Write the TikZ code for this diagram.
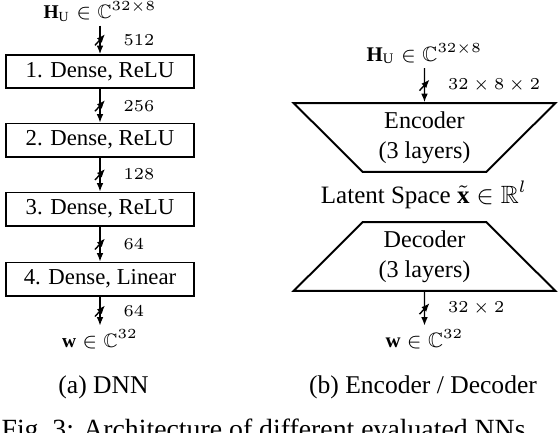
\documentclass[tikz,border=0pt]{standalone}
\usepackage{amsmath}
\usepackage{amssymb}
\usepackage{fontspec}
\setmainfont{Liberation Serif}
\usetikzlibrary{arrows.meta,shapes.geometric}

\begin{document}
\begin{tikzpicture}[x=0.36pt,y=-0.36pt,
  layer/.style={draw,line width=0.7pt,minimum width=67.7pt,minimum height=11.9pt,
    inner sep=0pt,font=\fontsize{8.2}{10}\selectfont},
  coder/.style={draw,line width=0.7pt,trapezium,trapezium angle=45,
    trapezium stretches=true,minimum width=94.7pt,minimum height=24.8pt,
    inner sep=0pt,align=center,font=\fontsize{8.7}{10.6}\selectfont},
  io/.style={inner sep=0pt,outer sep=1.5pt,anchor=base},
  sig/.style={-{Latex[length=3pt,width=2.4pt]},line width=0.45pt},
  dimlbl/.style={anchor=west,inner sep=0pt,xshift=8.3pt},
  busmark/.pic={\draw[line width=0.5pt] (-5,5.5) -- (5,-5.5);},
  subcap/.style={anchor=base,inner sep=0pt,font=\fontsize{9.2}{11}\selectfont}]
  \useasboundingbox (0,0) rectangle (558,432);

  % (a) DNN
  \node[io,font=\fontsize{7}{8}\selectfont] (hinL) at (100,18.5) {$\mathbf{H}_\mathrm{U}\in\mathbb{C}^{32\times 8}$};
  \node[layer] (d1) at (100,71.5) {1. Dense, ReLU};
  \node[layer] (d2) at (100,140) {2. Dense, ReLU};
  \node[layer] (d3) at (100,209) {3. Dense, ReLU};
  \node[layer] (d4) at (100,279) {4. Dense, Linear};
  \node[io,font=\fontsize{7}{8}\selectfont] (woutL) at (100,347) {$\mathbf{w}\in\mathbb{C}^{32}$};
  \draw[sig] (hinL) -- (d1) pic[pos=0.5]{busmark}
    node[pos=0.5,dimlbl,font=\fontsize{6}{7}\selectfont]{$512$};
  \draw[sig] (d1) -- (d2) pic[pos=0.5]{busmark}
    node[pos=0.5,dimlbl,font=\fontsize{6}{7}\selectfont]{$256$};
  \draw[sig] (d2) -- (d3) pic[pos=0.5]{busmark}
    node[pos=0.5,dimlbl,font=\fontsize{6}{7}\selectfont]{$128$};
  \draw[sig] (d3) -- (d4) pic[pos=0.5]{busmark}
    node[pos=0.5,dimlbl,font=\fontsize{6}{7}\selectfont]{$64$};
  \draw[sig] (d4) -- (woutL) pic[pos=0.5]{busmark}
    node[pos=0.5,dimlbl,font=\fontsize{6}{7}\selectfont]{$64$};
  \node[subcap] (capa) at (103.5,393) {(a) DNN};

  % (b) Encoder / Decoder
  \node[io,font=\fontsize{7.5}{9}\selectfont] (hinR) at (424.5,61) {$\mathbf{H}_\mathrm{U}\in\mathbb{C}^{32\times 8}$};
  \node[coder,shape border rotate=180] (enc) at (424.5,137.5) {Encoder\\(3 layers)};
  \node[io,font=\fontsize{9}{10}\selectfont] (lat) at (424,203) {Latent Space $\tilde{\mathbf{x}}\in\mathbb{R}^{l}$};
  \node[coder] (dec) at (424.5,256.5) {Decoder\\(3 layers)};
  \node[io,font=\fontsize{7.5}{9}\selectfont] (woutR) at (424.5,347) {$\mathbf{w}\in\mathbb{C}^{32}$};
  \draw[sig] (hinR) -- (enc) pic[pos=0.5]{busmark}
    node[pos=0.5,dimlbl,font=\fontsize{6.5}{8}\selectfont]{$32\times 8\times 2$};
  \draw[sig] (dec) -- (woutR) pic[pos=0.5]{busmark}
    node[pos=0.5,dimlbl,font=\fontsize{6.5}{8}\selectfont]{$32\times 2$};
  \node[subcap] (capb) at (423,393) {(b) Encoder / Decoder};

  \node[subcap,anchor=base west,font=\fontsize{10}{12}\selectfont] (fig) at (1,438.5) {Fig.~3: Architecture of different evaluated NNs.};
\end{tikzpicture}
\end{document}
